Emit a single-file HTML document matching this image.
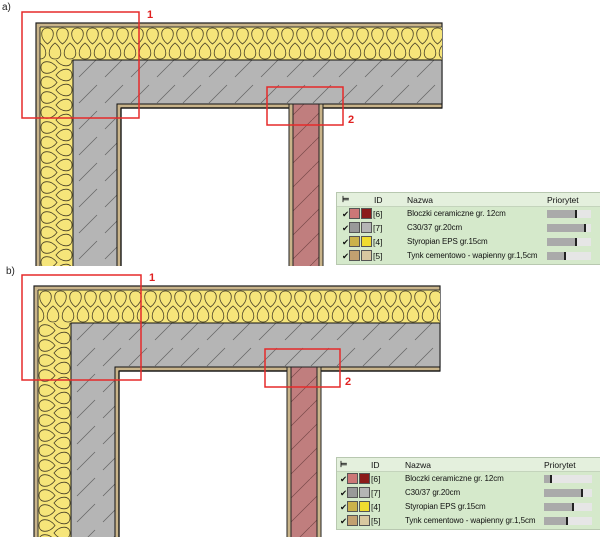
<!DOCTYPE html>
<html><head><meta charset="utf-8">
<style>
body{margin:0;width:600px;height:537px;background:#fff;position:relative;overflow:hidden;font-family:"Liberation Sans",sans-serif;}
svg{position:absolute;left:0;top:0}
.lab{position:absolute;font-size:10px;color:#222}
.num{position:absolute;font-size:11px;font-weight:bold;color:#e02020}
.leg{position:absolute;left:336px;width:264px;height:71px;background:#d5e9cb;border:1px solid #b8c8b0;font-size:8.5px;color:#111}
.leg .hd{position:absolute;left:0;top:0;width:100%;height:13px;background:#e4f0dd;border-bottom:1px solid #c4d4bc}
.leg span{position:absolute;white-space:nowrap}
.leg span.n{font-size:8px;letter-spacing:-0.1px}
.sw{position:absolute;width:9px;height:9px;border:1px solid #555}
.bar{position:absolute;height:8px;background:#e6e6e6}
.bar i{position:absolute;left:0;top:0;height:8px;background:#aaa;border-right:2px solid #222}
</style></head><body>
<svg width="600" height="537" viewBox="0 0 600 537">
<defs>
<pattern id="ins" width="15" height="33" patternUnits="userSpaceOnUse" x="40" y="27">
<rect width="15" height="33" fill="#f6e57a"/>
<g fill="none" stroke="#4a4228" stroke-width="0.8">
<path d="M7.5 17 C-0.5 11 0 1 7.5 1 C15 1 15.5 11 7.5 17Z"/>
<path d="M0 16 C-8 22 -7.5 32 0 32 C7.5 32 8 22 0 16Z"/>
<path d="M15 16 C7 22 7.5 32 15 32 C22.5 32 23 22 15 16Z"/>
</g></pattern>
<pattern id="insv" width="33" height="15" patternUnits="userSpaceOnUse" x="40" y="60">
<rect width="33" height="15" fill="#f6e57a"/>
<g fill="none" stroke="#4a4228" stroke-width="0.8">
<path d="M17 7.5 C11 -0.5 1 0 1 7.5 C1 15 11 15.5 17 7.5Z"/>
<path d="M16 0 C22 -8 32 -7.5 32 0 C32 7.5 22 8 16 0Z"/>
<path d="M16 15 C22 7 32 7.5 32 15 C32 22.5 22 23 16 15Z"/>
</g></pattern>
<pattern id="hat" width="26" height="26" patternUnits="userSpaceOnUse">
<rect width="26" height="26" fill="#b5b5b5"/>
<path d="M1 25 L19 7" stroke="#666" stroke-width="0.8"/>
</pattern>
<pattern id="brk" width="24" height="24" patternUnits="userSpaceOnUse">
<rect width="24" height="24" fill="#c07e7e"/>
<path d="M0 24 L24 0" stroke="#7a4a4a" stroke-width="0.7"/>
</pattern>
<g id="wall">
<path d="M36 23 H442 V108 H121 V290 H36 Z" fill="#c9b48a" stroke="#222" stroke-width="1.2"/>
<rect x="40" y="27" width="402" height="33" fill="url(#ins)"/>
<rect x="40" y="60" width="33" height="230" fill="url(#insv)"/>
<path d="M40 27 H442 M40 27 V290" stroke="#333" stroke-width="1" fill="none"/>
<path d="M73 60 H442 V104 H117 V290 H73 Z" fill="url(#hat)" stroke="#111" stroke-width="1"/>
<path d="M121 108 H442 M121 108 V290" stroke="#111" stroke-width="1.2" fill="none"/>
<rect x="289" y="104" width="34" height="190" fill="#c9b48a" stroke="#222" stroke-width="1"/>
<rect x="293" y="104" width="26" height="190" fill="url(#brk)" stroke="#222" stroke-width="1"/>
</g>
<clipPath id="ca"><rect x="0" y="0" width="600" height="266"/></clipPath>
<clipPath id="cb"><rect x="0" y="270" width="600" height="267"/></clipPath>
</defs>
<g clip-path="url(#ca)"><use href="#wall"/></g>
<g clip-path="url(#cb)"><g transform="translate(-2,263)"><use href="#wall"/></g></g>
<g fill="none" stroke="#e52a2a" stroke-width="1.5">
<rect x="22" y="12" width="117" height="106"/>
<rect x="267" y="87" width="76" height="38"/>
<rect x="22" y="275" width="119" height="105"/>
<rect x="265" y="349" width="75" height="38"/>
</g>
</svg>
<div class="lab" style="left:2px;top:2px">a)</div>
<div class="lab" style="left:6px;top:266px">b)</div>
<div class="num" style="left:147px;top:9px">1</div>
<div class="num" style="left:348px;top:114px">2</div>
<div class="num" style="left:149px;top:272px">1</div>
<div class="num" style="left:345px;top:376px">2</div>

<div class="leg" style="top:192px">
<div class="hd"></div>
<span style="left:5px;top:1px;font-weight:bold">⊨</span>
<span style="left:37px;top:2px">ID</span><span style="left:70px;top:2px">Nazwa</span><span style="left:210px;top:2px">Priorytet</span>
<span style="left:5px;top:16px">✔</span><div class="sw" style="left:12px;top:15px;background:#c77"></div><div class="sw" style="left:24px;top:15px;background:#8b1a1a"></div><span style="left:36px;top:16px">[6]</span><span class="n" style="left:70px;top:16px">Bloczki ceramiczne gr. 12cm</span><div class="bar" style="left:210px;top:17px;width:44px"><i style="width:28px"></i></div>
<span style="left:5px;top:30px">✔</span><div class="sw" style="left:12px;top:29px;background:#999"></div><div class="sw" style="left:24px;top:29px;background:#b5b5b5"></div><span style="left:36px;top:30px">[7]</span><span class="n" style="left:70px;top:30px">C30/37 gr.20cm</span><div class="bar" style="left:210px;top:31px;width:44px"><i style="width:37px"></i></div>
<span style="left:5px;top:44px">✔</span><div class="sw" style="left:12px;top:43px;background:#cbb24a"></div><div class="sw" style="left:24px;top:43px;background:#f0dc30"></div><span style="left:36px;top:44px">[4]</span><span class="n" style="left:70px;top:44px">Styropian EPS gr.15cm</span><div class="bar" style="left:210px;top:45px;width:44px"><i style="width:28px"></i></div>
<span style="left:5px;top:58px">✔</span><div class="sw" style="left:12px;top:57px;background:#c2a070"></div><div class="sw" style="left:24px;top:57px;background:#d8c8a0"></div><span style="left:36px;top:58px">[5]</span><span class="n" style="left:70px;top:58px">Tynk cementowo - wapienny gr.1,5cm</span><div class="bar" style="left:210px;top:59px;width:44px"><i style="width:17px"></i></div>
</div>

<div class="leg" style="top:457px">
<div class="hd"></div>
<span style="left:3px;top:1px;font-weight:bold">⊨</span>
<span style="left:34px;top:2px">ID</span><span style="left:68px;top:2px">Nazwa</span><span style="left:207px;top:2px">Priorytet</span>
<span style="left:3px;top:16px">✔</span><div class="sw" style="left:10px;top:15px;background:#c77"></div><div class="sw" style="left:22px;top:15px;background:#8b1a1a"></div><span style="left:34px;top:16px">[6]</span><span class="n" style="left:68px;top:16px">Bloczki ceramiczne gr. 12cm</span><div class="bar" style="left:207px;top:17px;width:48px"><i style="width:6px"></i></div>
<span style="left:3px;top:30px">✔</span><div class="sw" style="left:10px;top:29px;background:#999"></div><div class="sw" style="left:22px;top:29px;background:#b5b5b5"></div><span style="left:34px;top:30px">[7]</span><span class="n" style="left:68px;top:30px">C30/37 gr.20cm</span><div class="bar" style="left:207px;top:31px;width:48px"><i style="width:37px"></i></div>
<span style="left:3px;top:44px">✔</span><div class="sw" style="left:10px;top:43px;background:#cbb24a"></div><div class="sw" style="left:22px;top:43px;background:#f0dc30"></div><span style="left:34px;top:44px">[4]</span><span class="n" style="left:68px;top:44px">Styropian EPS gr.15cm</span><div class="bar" style="left:207px;top:45px;width:48px"><i style="width:28px"></i></div>
<span style="left:3px;top:58px">✔</span><div class="sw" style="left:10px;top:57px;background:#c2a070"></div><div class="sw" style="left:22px;top:57px;background:#d8c8a0"></div><span style="left:34px;top:58px">[5]</span><span class="n" style="left:68px;top:58px">Tynk cementowo - wapienny gr.1,5cm</span><div class="bar" style="left:207px;top:59px;width:48px"><i style="width:22px"></i></div>
</div>
</body></html>
